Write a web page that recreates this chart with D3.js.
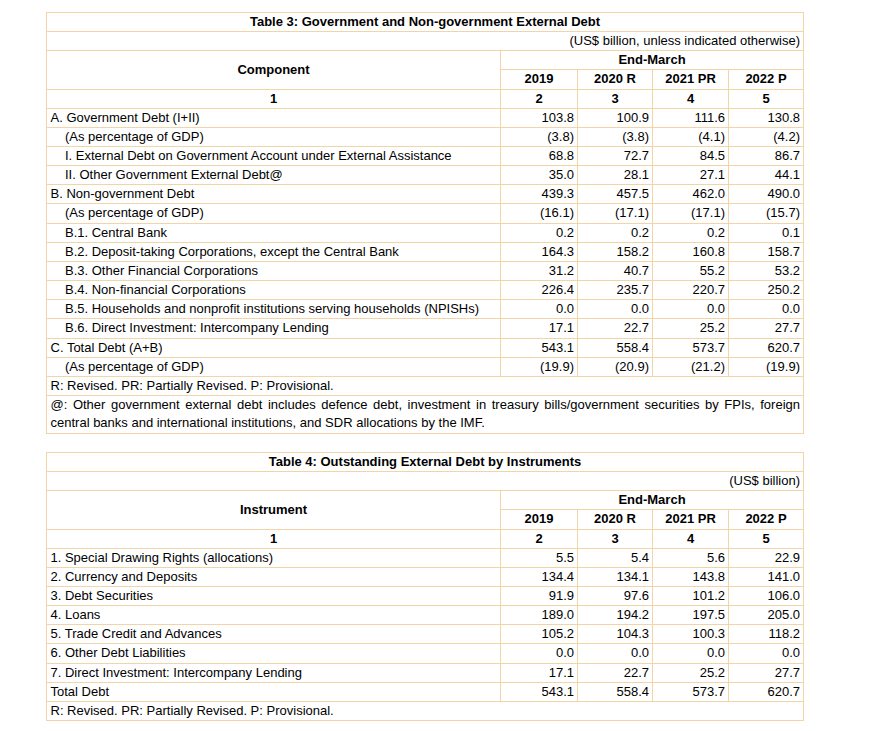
<!DOCTYPE html>
<html>
<head>
<meta charset="utf-8">
<script src="https://cdn.jsdelivr.net/npm/d3@7"></script>
<style>
  html, body { margin: 0; padding: 0; background: #ffffff; }
  svg { display: block; }
  text { font-family: "Liberation Sans", Arial, Helvetica, sans-serif; font-size: 13px; fill: #000; }
  .b { font-weight: bold; }
</style>
</head>
<body>
<svg id="chart" width="876" height="731"></svg>
<script>
// ---------------- DATA ----------------
const years = ["2019", "2020 R", "2021 PR", "2022 P"];
const colNumbers = ["1", "2", "3", "4", "5"];

// Table 3
const table3Title = "Table 3: Government and Non-government External Debt";
const table3Unit = "(US$ billion, unless indicated otherwise)";
const table3Header = "Component";
const components = [
  "A. Government Debt (I+II)",
  "(As percentage of GDP)",
  "I. External Debt on Government Account under External Assistance",
  "II. Other Government External Debt@",
  "B. Non-government Debt",
  "(As percentage of GDP)",
  "B.1. Central Bank",
  "B.2. Deposit-taking Corporations, except the Central Bank",
  "B.3. Other Financial Corporations",
  "B.4. Non-financial Corporations",
  "B.5. Households and nonprofit institutions serving households (NPISHs)",
  "B.6. Direct Investment: Intercompany Lending",
  "C. Total Debt (A+B)",
  "(As percentage of GDP)"
];
const componentIndent = [0, 1, 1, 1, 0, 1, 1, 1, 1, 1, 1, 1, 0, 1];
const componentIsPct  = [0, 1, 0, 0, 0, 1, 0, 0, 0, 0, 0, 0, 0, 1];
const comp2019   = [103.8, 3.8, 68.8, 35.0, 439.3, 16.1, 0.2, 164.3, 31.2, 226.4, 0.0, 17.1, 543.1, 19.9];
const comp2020R  = [100.9, 3.8, 72.7, 28.1, 457.5, 17.1, 0.2, 158.2, 40.7, 235.7, 0.0, 22.7, 558.4, 20.9];
const comp2021PR = [111.6, 4.1, 84.5, 27.1, 462.0, 17.1, 0.2, 160.8, 55.2, 220.7, 0.0, 25.2, 573.7, 21.2];
const comp2022P  = [130.8, 4.2, 86.7, 44.1, 490.0, 15.7, 0.1, 158.7, 53.2, 250.2, 0.0, 27.7, 620.7, 19.9];
const table3Notes = [
  ["R: Revised. PR: Partially Revised. P: Provisional."],
  ["@: Other government external debt includes defence debt, investment in treasury bills/government securities by FPIs, foreign",
   "central banks and international institutions, and SDR allocations by the IMF."]
];

// Table 4
const table4Title = "Table 4: Outstanding External Debt by Instruments";
const table4Unit = "(US$ billion)";
const table4Header = "Instrument";
const instruments = [
  "1. Special Drawing Rights (allocations)",
  "2. Currency and Deposits",
  "3. Debt Securities",
  "4. Loans",
  "5. Trade Credit and Advances",
  "6. Other Debt Liabilities",
  "7. Direct Investment: Intercompany Lending",
  "Total Debt"
];
const inst2019   = [5.5, 134.4, 91.9, 189.0, 105.2, 0.0, 17.1, 543.1];
const inst2020R  = [5.4, 134.1, 97.6, 194.2, 104.3, 0.0, 22.7, 558.4];
const inst2021PR = [5.6, 143.8, 101.2, 197.5, 100.3, 0.0, 25.2, 573.7];
const inst2022P  = [22.9, 141.0, 106.0, 205.0, 118.2, 0.0, 27.7, 620.7];
const table4Notes = [
  ["R: Revised. PR: Partially Revised. P: Provisional."]
];

// ---------------- LAYOUT ----------------
const BORDER = "#f2d4a6";
const ROW_H = 19.15;
const NOTE_LINE = 17.6;
const colEdges = [46, 500, 577, 652, 728, 803];
const px = v => Math.round(v) + 0.5;
const fmt = d3.format(".1f");

const svg = d3.select("#chart");

function drawTable(cfg) {
  const g = svg.append("g");
  const nData = cfg.labels.length;
  const nNoteRows = cfg.notes.reduce((s, n) => s + n.length, 0);
  const nRows = 5 + nData + nNoteRows;
  const y = d3.scaleLinear().domain([0, nRows]).range([cfg.top, cfg.top + nRows * ROW_H]);
  const x = d3.scaleOrdinal().domain(d3.range(colEdges.length)).range(colEdges.map(px));
  const L = x(0), R = x(5);
  const dataEnd = 5 + nData;

  // horizontal rules
  const hRules = [];
  [0, 1, 2, 4].forEach(r => hRules.push({ r, x0: L, x1: R }));
  hRules.push({ r: 3, x0: x(1), x1: R });
  for (let r = 5; r <= dataEnd; r++) hRules.push({ r, x0: L, x1: R });
  let acc = dataEnd;
  cfg.notes.forEach(n => { acc += n.length; hRules.push({ r: acc, x0: L, x1: R }); });

  g.selectAll("line.h").data(hRules).join("line")
    .attr("class", "h")
    .attr("x1", d => d.x0 - 0.5).attr("x2", d => d.x1 + 0.5)
    .attr("y1", d => px(y(d.r))).attr("y2", d => px(y(d.r)))
    .attr("stroke", BORDER).attr("stroke-width", 1);

  // vertical rules
  const vRules = [
    { c: 0, r0: 0, r1: nRows },
    { c: 5, r0: 0, r1: nRows },
    { c: 1, r0: 2, r1: dataEnd },
    { c: 2, r0: 3, r1: dataEnd },
    { c: 3, r0: 3, r1: dataEnd },
    { c: 4, r0: 3, r1: dataEnd }
  ];
  g.selectAll("line.v").data(vRules).join("line")
    .attr("class", "v")
    .attr("x1", d => x(d.c)).attr("x2", d => x(d.c))
    .attr("y1", d => px(y(d.r0)) - 0.5).attr("y2", d => px(y(d.r1)) + 0.5)
    .attr("stroke", BORDER).attr("stroke-width", 1);

  const base = r => px(y(r)) + 13.5;
  const mid = c => (x(c) + x(c + 1)) / 2;

  // title
  g.append("text").attr("class", "b").attr("text-anchor", "middle")
    .attr("x", (L + R) / 2).attr("y", base(0)).text(cfg.title);
  // unit
  g.append("text").attr("text-anchor", "end")
    .attr("x", R - 3.5).attr("y", base(1)).text(cfg.unit);
  // label header spanning two rows
  g.append("text").attr("class", "b").attr("text-anchor", "middle")
    .attr("x", mid(0)).attr("y", (px(y(2)) + px(y(4))) / 2 + 3.5).text(cfg.header);
  // End-March
  g.append("text").attr("class", "b").attr("text-anchor", "middle")
    .attr("x", (x(1) + R) / 2).attr("y", base(2)).text("End-March");
  // years
  g.selectAll("text.yr").data(years).join("text")
    .attr("class", "yr b").attr("text-anchor", "middle")
    .attr("x", (d, i) => mid(i + 1)).attr("y", base(3)).text(d => d);
  // column numbers
  g.selectAll("text.cn").data(colNumbers).join("text")
    .attr("class", "cn b").attr("text-anchor", "middle")
    .attr("x", (d, i) => mid(i)).attr("y", base(4)).text(d => d);

  // data labels
  g.selectAll("text.lbl").data(cfg.labels).join("text")
    .attr("class", "lbl")
    .attr("x", (d, i) => L + 4 + (cfg.indent ? cfg.indent[i] : 0) * 14.5)
    .attr("y", (d, i) => base(5 + i)).text(d => d);

  // values
  const cells = [];
  cfg.series.forEach((arr, c) => arr.forEach((v, i) => {
    const pct = cfg.pct && cfg.pct[i];
    cells.push({ c, i, t: pct ? "(" + fmt(v) + ")" : fmt(v) });
  }));
  g.selectAll("text.val").data(cells).join("text")
    .attr("class", "val").attr("text-anchor", "end")
    .attr("x", d => x(d.c + 2) - 3.5)
    .attr("y", d => base(5 + d.i)).text(d => d.t);

  // notes
  let r = dataEnd;
  cfg.notes.forEach(lines => {
    const top = r;
    lines.forEach((ln, j) => {
      const t = g.append("text")
        .attr("x", L + 4)
        .attr("y", base(top) + j * NOTE_LINE)
        .text(ln);
      if (j < lines.length - 1) {
        const avail = (R - 3.5) - (L + 4);
        const w = t.node().getComputedTextLength();
        const spaces = (ln.match(/ /g) || []).length;
        if (spaces > 0) t.style("word-spacing", ((avail - w) / spaces) + "px");
      }
    });
    r += lines.length;
  });
}

drawTable({
  top: 12,
  title: table3Title, unit: table3Unit, header: table3Header,
  labels: components, indent: componentIndent, pct: componentIsPct,
  series: [comp2019, comp2020R, comp2021PR, comp2022P],
  notes: table3Notes
});

drawTable({
  top: 452,
  title: table4Title, unit: table4Unit, header: table4Header,
  labels: instruments, indent: null, pct: null,
  series: [inst2019, inst2020R, inst2021PR, inst2022P],
  notes: table4Notes
});
</script>
</body>
</html>
